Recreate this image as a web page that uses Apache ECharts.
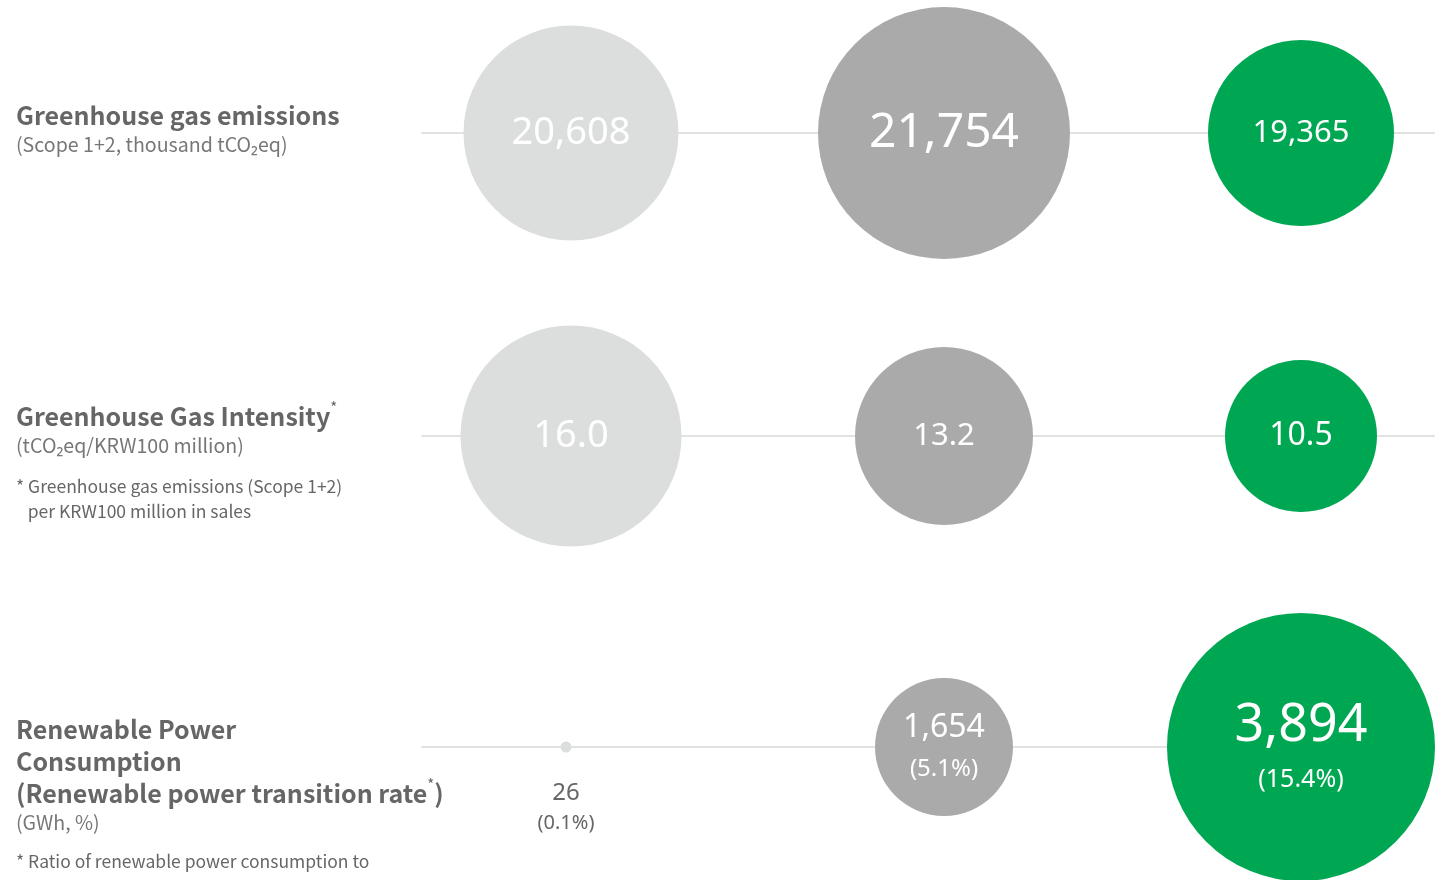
<!DOCTYPE html>
<html>
<head>
<meta charset="utf-8">
<script src="https://cdn.jsdelivr.net/npm/echarts@6/dist/echarts.min.js"></script>
<style>
html,body{margin:0;padding:0;background:#fff;}
#chart{width:1435px;height:880px;}
</style>
</head>
<body>
<div id="chart"></div>
<script>
// ---- data ----
const columns = ['Year 1', 'Year 2', 'Year 3'];
const ghgEmissions = [20608, 21754, 19365];       // thousand tCO2eq
const ghgIntensity = [16.0, 13.2, 10.5];          // tCO2eq/KRW100 million
const renewablePower = [26, 1654, 3894];          // GWh
const renewableRate = [0.1, 5.1, 15.4];           // %

// ---- style ----
const bubbleColors = ['#dcdedd', '#a9aaa9', '#00a752'];
const bubbleDiameters = [[215, 252, 186], [221, 178, 152], [11, 138, 268]];
const colOffsets = [[0, 8, 0], [0, 8, 0], [-5, 8, 0]];
const rowCenters = [133, 436, 747];
const lineColor = '#e2e2e2';
const numFont = "'Noto Sans', 'Open Sans', sans-serif";
const textFont = "'Noto Sans CJK KR', 'Noto Sans', sans-serif";

const chart = echarts.init(document.getElementById('chart'), null, {renderer: 'canvas'});

const gridLeft = 422, colStart = 571, colEnd = 1301, chartW = 1435;
const unitPx = (colEnd - colStart) / (columns.length - 1);
const xMin = -(colStart - gridLeft) / unitPx;
const xMax = (columns.length - 1) + (chartW - colEnd) / unitPx;

const grids = [], xAxes = [], yAxes = [];
rowCenters.forEach((c, i) => {
  grids.push({left: gridLeft, right: 0, top: c - 100, height: 200, outerBoundsMode: 'none'});
  xAxes.push({
    type: 'value', gridIndex: i, min: xMin, max: xMax,
    axisLine: {show: true, onZero: true, lineStyle: {color: lineColor, width: 2}},
    axisTick: {show: false}, axisLabel: {show: false}, splitLine: {show: false}
  });
  yAxes.push({type: 'value', gridIndex: i, min: -1, max: 1, show: false, splitLine: {show: false}});
});

function mkData(values, row) {
  return values.map((v, i) => ({
    value: [i, 0, v],
    itemStyle: {color: bubbleColors[i], opacity: 1},
    symbolSize: bubbleDiameters[row][i],
    symbolOffset: [colOffsets[row][i], 0]
  }));
}

const row1 = mkData(ghgEmissions, 0);
const row2 = mkData(ghgIntensity, 1);
const row3 = mkData(renewablePower, 2);
const fmtInt = v => v.toLocaleString('en-US');

const row1Sizes = [38, 48, 31];
row1.forEach((d, i) => {
  d.label = {show: true, position: 'inside', formatter: fmtInt(ghgEmissions[i]),
    color: '#fff', fontFamily: numFont, fontWeight: 'normal', fontSize: row1Sizes[i]};
});
const row2Sizes = [38, 31, 32];
row2.forEach((d, i) => {
  d.label = {show: true, position: 'inside', formatter: ghgIntensity[i].toFixed(1),
    color: '#fff', fontFamily: numFont, fontWeight: 'normal', fontSize: row2Sizes[i]};
});
row3.forEach((d, i) => {
  const big = i === 2, small = i === 0;
  d.label = {
    show: true,
    position: small ? 'bottom' : 'inside',
    distance: 26,
    formatter: '{a|' + fmtInt(renewablePower[i]) + '}\n{b|(' + renewableRate[i].toFixed(1) + '%)}',
    rich: {
      a: {color: small ? '#666' : '#fff', fontFamily: numFont, fontWeight: 'normal',
          fontSize: small ? 24 : (big ? 52 : 32), lineHeight: small ? 30 : (big ? 66 : 44)},
      b: {color: small ? '#666' : '#fff', fontFamily: numFont, fontWeight: 'normal',
          fontSize: small ? 20 : (big ? 25 : 24), lineHeight: small ? 30 : (big ? 42 : 38)}
    }
  };
});

const series = [row1, row2, row3].map((data, i) => ({
  type: 'scatter', xAxisIndex: i, yAxisIndex: i, clip: false,
  symbol: 'circle', data: data, silent: true, z: 3
}));

const richTitle = {
  t: {fontFamily: textFont, fontWeight: 'bold', fontSize: 25, color: '#666666', lineHeight: 32},
  s: {fontFamily: textFont, fontWeight: 'normal', fontSize: 15, color: '#666666', verticalAlign: 'top', lineHeight: 28},
  u: {fontFamily: textFont, fontWeight: 'normal', fontSize: 19.6, color: '#777777', lineHeight: 28},
  f: {fontFamily: textFont, fontWeight: 'normal', fontSize: 17.5, color: '#666666', lineHeight: 25}
};

const titles = [
  {left: 16, top: 99, text: '{t|Greenhouse gas emissions}\n{u|(Scope 1+2, thousand tCO₂eq)}'},
  {left: 16, top: 400, text: '{t|Greenhouse Gas Intensity}{s|*}\n{u|(tCO₂eq/KRW100 million)}'},
  {left: 16, top: 474, text: '{f|* Greenhouse gas emissions (Scope 1+2)}\n{f|   per KRW100 million in sales}'},
  {left: 16, top: 713, text: '{t|Renewable Power}\n{t|Consumption}\n{t|(Renewable power transition rate}{s|*}{t|)}\n{u|(GWh, %)}'},
  {left: 16, top: 849, text: '{f|* Ratio of renewable power consumption to}'}
].map(t => ({left: t.left, top: t.top, text: t.text, padding: 0,
  textStyle: {fontWeight: 'normal', rich: richTitle}}));

chart.setOption({
  backgroundColor: '#ffffff',
  animation: false,
  title: titles,
  grid: grids,
  xAxis: xAxes,
  yAxis: yAxes,
  series: series
});
</script>
</body>
</html>
